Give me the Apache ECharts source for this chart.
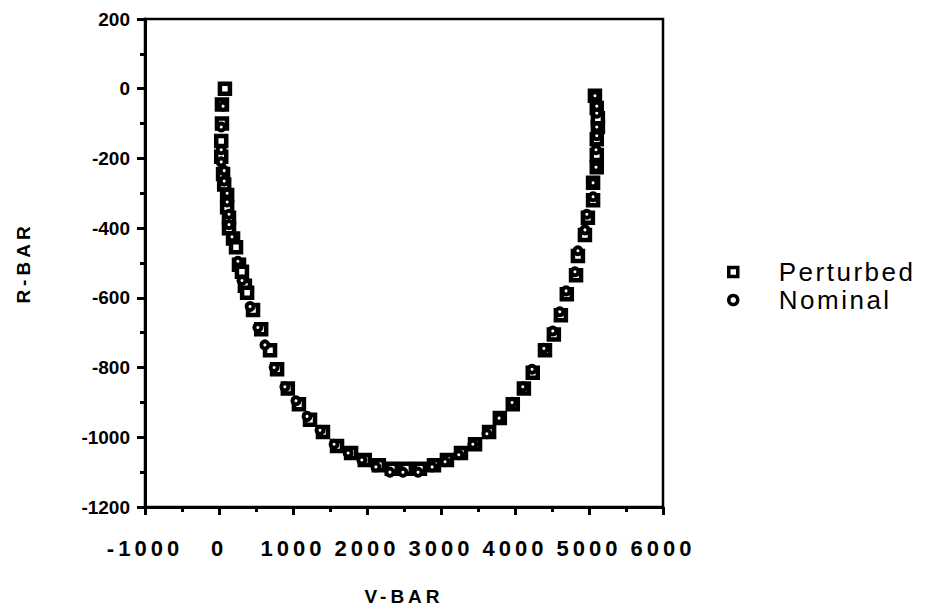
<!DOCTYPE html>
<html>
<head>
<meta charset="utf-8">
<script src="https://cdn.jsdelivr.net/npm/echarts@6/dist/echarts.min.js"></script>
<style>
  html, body { margin: 0; padding: 0; background: #fff; }
  #chart { width: 934px; height: 611px; }
</style>
</head>
<body>
<div id="chart"></div>
<script>
// Relative-motion trajectory: V-BAR (downrange) vs R-BAR (radial)
const perturbedV = [80,40,40,30,30,55,70,110,110,135,135,190,230,270,310,350,380,460,570,690,785,930,1080,1230,1405,1595,1785,1970,2160,2335,2525,2715,2905,3080,3270,3460,3650,3795,3970,4120,4240,4405,4525,4620,4700,4825,4850,4945,4985,5055,5055,5105,5105,5105,5120,5120,5105,5080];
const perturbedR = [0,-45,-100,-150,-195,-245,-275,-305,-340,-370,-400,-430,-455,-505,-525,-565,-585,-635,-690,-750,-805,-860,-905,-950,-985,-1025,-1045,-1065,-1080,-1090,-1090,-1090,-1080,-1065,-1045,-1020,-985,-945,-905,-860,-815,-750,-705,-650,-590,-535,-480,-420,-370,-320,-270,-225,-190,-145,-110,-85,-55,-20];

const nominalV = [55,30,30,30,70,70,110,110,135,135,175,255,310,420,525,620,745,890,1040,1190,1365,1555,1745,1930,2120,2310,2485,2690,2880,3055,3240,3430,3620,3785,3960,4105,4230,4390,4510,4605,4690,4810,4850,4945,4970,5055,5055,5095,5095,5105,5105,5105,5105,5080];
const nominalR = [-50,-110,-175,-210,-235,-265,-300,-325,-360,-390,-425,-495,-550,-625,-685,-735,-800,-855,-895,-940,-980,-1020,-1045,-1065,-1085,-1100,-1100,-1100,-1085,-1070,-1050,-1020,-990,-945,-900,-855,-805,-745,-695,-640,-580,-525,-465,-405,-360,-310,-270,-225,-175,-135,-110,-70,-50,-20];

const seriesNames = ['Perturbed', 'Nominal'];
const xLabel = 'V-BAR';
const yLabel = 'R-BAR';

const pair = (xs, ys) => xs.map((x, i) => [x, ys[i]]);
const plain = v => String(v);

const chart = echarts.init(document.getElementById('chart'), null, { renderer: 'svg' });

const boldFont = { fontFamily: 'Liberation Sans', fontWeight: 'bold', color: '#000' };
const axisStroke = { color: '#000', width: 3 };

chart.setOption({
  animation: false,
  backgroundColor: '#fff',
  grid: {
    left: 145, right: 271, top: 19, bottom: 103,
    show: true, borderColor: '#000', borderWidth: 2.5, backgroundColor: 'transparent'
  },
  legend: {
    orient: 'vertical',
    left: 722, top: 254,
    itemGap: 2,
    itemWidth: 9, itemHeight: 9,
    data: [
      { name: seriesNames[0], icon: 'rect' },
      { name: seriesNames[1], icon: 'circle' }
    ],
    itemStyle: { color: '#fff', borderColor: '#000', borderWidth: 3.5 },
    textStyle: { fontFamily: 'Liberation Sans', fontSize: 26, color: '#000', padding: [0, 0, 0, 36] }
  },
  xAxis: {
    type: 'value', min: -1000, max: 6000, interval: 1000,
    name: xLabel, nameLocation: 'middle', nameGap: 80,
    nameTextStyle: Object.assign({ fontSize: 19 }, boldFont),
    axisLine: { show: true, onZero: false, lineStyle: axisStroke },
    axisTick: { show: true, inside: false, length: 8, lineStyle: axisStroke },
    minorTick: { show: true, splitNumber: 2, length: 5, lineStyle: axisStroke },
    splitLine: { show: false },
    axisLabel: Object.assign({ fontSize: 22, margin: 30, formatter: plain }, boldFont)
  },
  yAxis: {
    type: 'value', min: -1200, max: 200, interval: 200,
    name: yLabel, nameLocation: 'middle', nameGap: 112, nameRotate: 90,
    nameTextStyle: Object.assign({ fontSize: 19 }, boldFont),
    axisLine: { show: true, onZero: false, lineStyle: axisStroke },
    axisTick: { show: true, inside: false, length: 8, lineStyle: axisStroke },
    minorTick: { show: true, splitNumber: 2, length: 5, lineStyle: axisStroke },
    splitLine: { show: false },
    axisLabel: Object.assign({ fontSize: 19, margin: 15, formatter: plain }, boldFont)
  },
  series: [
    {
      name: seriesNames[0], type: 'scatter', symbol: 'rect', symbolSize: 10,
      itemStyle: { color: '#fff', borderColor: '#000', borderWidth: 4.5, opacity: 1 },
      data: pair(perturbedV, perturbedR), z: 2
    },
    {
      name: seriesNames[1], type: 'scatter', symbol: 'circle', symbolSize: 7,
      itemStyle: { color: '#fff', borderColor: '#000', borderWidth: 4, opacity: 1 },
      data: pair(nominalV, nominalR), z: 3
    }
  ]
});

// Widen the letter spacing of the x tick labels, axis titles and legend entries
function spaceText() {
  const xTicks = ['-1000', '0', '1000', '2000', '3000', '4000', '5000', '6000'];
  const texts = document.querySelectorAll('#chart svg text');
  texts.forEach(t => {
    const s = t.textContent;
    const m = (t.getAttribute('style') || '').match(/(\d+(?:\.\d+)?)px/);
    const fs = m ? parseFloat(m[1]) : 0;
    if (s === xLabel || s === yLabel) t.style.letterSpacing = '4px';
    else if (seriesNames.includes(s)) t.style.letterSpacing = '2.5px';
    else if (xTicks.includes(s) && fs >= 21) t.style.letterSpacing = '4px';
  });
}
chart.on('finished', spaceText);
setTimeout(spaceText, 50);
</script>
</body>
</html>
